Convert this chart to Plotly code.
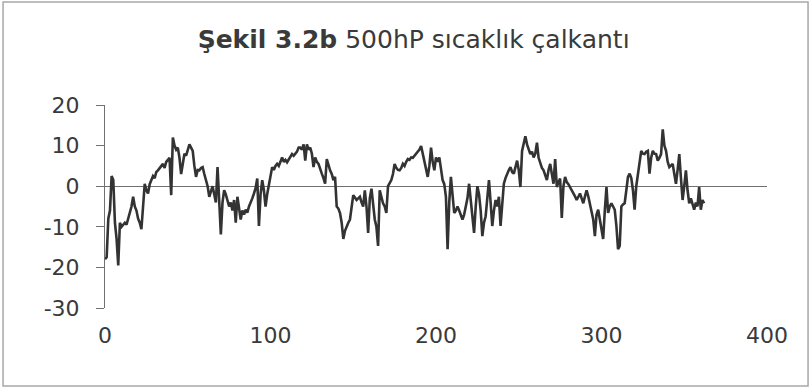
import plotly.graph_objects as go

title_bold = "Şekil 3.2b"
title_rest = "500hP sıcaklık çalkantı"

x_ticks = [0, 100, 200, 300, 400]
y_ticks = [20, 10, 0, -10, -20, -30]

values = [
    -18, -17.5, -8, -6, 2.5, 1.5, -9, -13, -19.5, -9,
    -10, -9.5, -9, -9.5, -8, -7, -5, -2.6, -5, -6,
    -8, -9, -10.6, -5, 0.6, -1, -1.8, 0.5, 1.5, 2.5,
    2, 3.5, 3.9, 4.5, 5, 5.5, 4.5, 6, 6.5, 7,
    -2.2, 12, 10, 9, 9.5, 7, 3, 6, 8, 7.5,
    9, 10.3, 9.5, 8.7, 5, 2.3, 4, 3.9, 4.5, 4.7,
    3, 1.5, 0, -2.6, -1, 0, -2, -4, 4.7, -5,
    -11.9, -4, -1, -2, -3.5, -5, -4, -6, -3.4, -9,
    -2.6, -5, -8.2, -6, -7, -5.8, -6.5, -5, -4.2, -3,
    -1.8, -0.5, 1.9, -9.8, -2, 1.5, -1, -5, -2, 0.6,
    2, 4.7, 4, 5, 5.5, 5, 6, 7.1, 6, 6.5,
    5.9, 6.5, 7, 7.9, 7.5, 8, 8.5, 9.5, 9.5, 9,
    10.3, 6.3, 10.3, 9, 9.5, 8, 4.7, 7.1, 6, 5.5,
    4, 3.1, 2, 0.6, 6.7, 5, 3.9, 3, 1.5, 2.3,
    -5, -5.5, -6.6, -9, -13, -11, -9.8, -9, -8.2, -5,
    -2.2, -2.8, -3.4, -3, -2.6, -4, -5, -1, -5, -11.5,
    -3, -0.6, -5, -8.2, -10, -14.7, -1, -3, -4.2, -5,
    -6.6, 0, 0.8, 1.5, 3, 5.5, 4.5, 4, 3.9, 4.5,
    5.5, 5, 6, 6.7, 6.5, 7.1, 7, 7.5, 7.9, 8.5,
    9, 9.9, 8, 6.3, 4, 2.3, 5, 9.5, 6, 3.9,
    7.1, 6, 7.1, 4, 1.5, 0.5, -2.6, -15.5, -4, 2.3,
    -2, -6.6, -6, -5, -6, -7, -8.2, -7, -5, -3,
    0.6, -3.4, -8, -11.5, -5, 0, -2, -6, -12.3, -9,
    -7.4, -3, 1.5, -4, -9.8, -6, -3.4, -5, -2.6, -9.8,
    -3.4, 0.6, 2, 3.1, 4, 4.7, 3.5, 3.1, 5, 6.3,
    4, -0.2, 8.7, 11, 12.3, 10.3, 9, 7.9, 8.5, 7.1,
    8, 10.7, 7, 5.5, 4.5, 3.9, 2.5, 1.5, 4, 5.5,
    3, 0.6, 6.7, -0.2, 1, 1.9, -7.8, 0, 2.3, 1,
    0.5, -0.2, -1, -1.8, -2.5, -3.4, -2.5, -1.8, -3, -4.2,
    -2.5, -1, -2.5, -4.2, -6, -8.2, -12.3, -7, -5.8, -8,
    -9.8, -13, -6, -0.2, -6.6, -5, -4.2, -5, -5.8, -9.8,
    -15.5, -14.7, -5, -4.5, -4.2, -1, 2.3, 3.1, 2, -1,
    -5.8, 0, 3.1, 6, 8.7, 8, 7.9, 8.5, 8.7, 3.1,
    7, 8.7, 8, 7.9, 6.3, 7, 7.9, 14, 10, 8.7,
    6, 4.7, 5, 5.5, 3, 0.6, 4, 7.9, 2, -3.4,
    0, 3.9, -1, -4.2, -3, -4.2, -5.8, -4, -5, -0.2,
    -5.8, -3.4, -4.2,
]
days = list(range(len(values)))

fig = go.Figure()
fig.add_trace(go.Scatter(
    x=days, y=values, mode="lines",
    line=dict(color="#333333", width=2.6),
    hoverinfo="skip", showlegend=False,
))

font_family = "DejaVu Sans, Arial, sans-serif"

fig.update_layout(
    width=811, height=389,
    margin=dict(l=105, r=44, t=105, b=81),
    paper_bgcolor="white", plot_bgcolor="white",
    title=dict(
        text=f"<b>{title_bold}</b> {title_rest}",
        x=0.51, xanchor="center", y=0.9, yanchor="middle",
        font=dict(family=font_family, size=25, color="#3a3a3a"),
    ),
    xaxis=dict(
        range=[0, 400], tickvals=x_ticks, ticktext=[str(v) for v in x_ticks],
        showgrid=False, zeroline=False, showline=False, ticks="",
        ticklabelstandoff=12,
        tickfont=dict(family=font_family, size=22, color="#3a3a3a"),
    ),
    yaxis=dict(
        range=[-30, 20], tickvals=y_ticks, ticktext=[str(v) for v in y_ticks],
        showgrid=False, zeroline=True, zerolinecolor="#707070", zerolinewidth=1,
        showline=True, linecolor="#707070", linewidth=1,
        ticks="outside", ticklen=8, tickcolor="#707070",
        ticklabelstandoff=12,
        tickfont=dict(family=font_family, size=22, color="#3a3a3a"),
    ),
    shapes=[dict(
        type="rect", xref="paper", yref="paper",
        x0=-0.154, x1=1.062, y0=-0.384, y1=1.507,
        line=dict(color="#a8a8a8", width=1.5), fillcolor="rgba(0,0,0,0)",
        layer="below",
    )],
)

fig.write_html(
    "out.html",
    config={"displayModeBar": False},
    post_script="document.body.style.margin='0';",
)
